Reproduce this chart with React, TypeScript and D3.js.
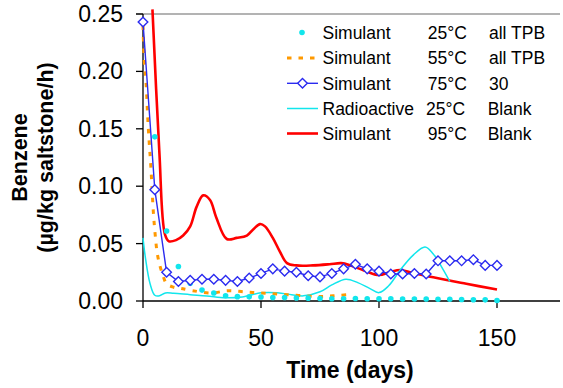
import React from "react";
import * as d3 from "d3";

const xTicks = [0, 50, 100, 150];
const yTicks = [0, 0.05, 0.1, 0.15, 0.2, 0.25];

const dotDays = [5,10,15,20,25,30,35,40,45,50,55,60,65,70,75,80,85,90,95,100,105,110,115,120,125,130,135,140,145,150];
const dotVals = [0.143,0.061,0.030,0.0155,0.0095,0.007,0.0046,0.0038,0.0036,0.0035,0.003,0.003,0.0026,0.0025,0.0022,0.002,0.002,0.0022,0.002,0.002,0.0019,0.0018,0.0018,0.0017,0.0015,0.0015,0.0013,0.0011,0.001,0.0005];

const orangeDays = [0,0.5,1.3,2,2.6,3.3,4.4,5.2,6,7,8.5,10,13,16,21,29,36,43,50,57,65,72,77,82,87];
const orangeVals = [0.24,0.21,0.19,0.16,0.139,0.118,0.077,0.057,0.042,0.032,0.022,0.015,0.012,0.011,0.009,0.007,0.009,0.008,0.007,0.006,0.005,0.004,0.004,0.0047,0.0055];

const blueDays = [0,5,10,15,20,25,30,35,40,45,50,55,60,65,70,75,80,85,90,95,100,105,110,115,120,125,130,135,140,145,150];
const blueVals = [0.243,0.097,0.025,0.017,0.018,0.019,0.019,0.018,0.017,0.020,0.024,0.028,0.026,0.025,0.022,0.021,0.024,0.028,0.032,0.028,0.026,0.0235,0.0235,0.024,0.0235,0.035,0.035,0.035,0.036,0.031,0.031];

const cyanDays = [0,1,3,5,7,9.5,13,20,27,35,42,50,57,63,68,75,80,86,91,96,100,104,109,114.5,119.5,123,127,130];
const cyanVals = [0.055,0.038,0.015,0.005,0.0045,0.007,0.0067,0.0055,0.0044,0.0028,0.0035,0.0072,0.0072,0.0055,0.0045,0.008,0.014,0.019,0.016,0.011,0.0073,0.013,0.027,0.040,0.047,0.041,0.028,0.017];

const redDays = [4.0,6.9,9.3,11,14,17,20,22.7,25.5,28.4,31,35.5,39.7,44,47,49.6,51.7,55,58,61,65,72,79,84,88,95,100,105,109,114,123,137,150];
const redVals = [0.254,0.131,0.058,0.052,0.053,0.057,0.065,0.082,0.092,0.088,0.073,0.054,0.055,0.057,0.063,0.067,0.065,0.055,0.043,0.033,0.031,0.031,0.032,0.033,0.031,0.0255,0.0226,0.0255,0.027,0.0247,0.0206,0.015,0.010];

const legendNames = ["Simulant", "Simulant", "Simulant", "Radioactive", "Simulant"];
const legendTemps = ["25°C", "55°C", "75°C", "25°C", "95°C"];
const legendTypes = ["all TPB", "all TPB", "30", "Blank", "Blank"];

const FONT = "'Liberation Sans', Arial, sans-serif";
const CYAN = "#12E6EC";
const ORANGE = "#FF9900";
const BLUE = "#2B2BF0";
const RED = "#FF0000";

export default function App() {
  const x = d3.scaleLinear().domain([0, 150]).range([143, 497]);
  const y = d3.scaleLinear().domain([0, 0.25]).range([301, 14]);

  const smooth = d3
    .line<[number, number]>()
    .x((d) => x(d[0]))
    .y((d) => y(d[1]))
    .curve(d3.curveCatmullRom.alpha(0.5));
  const straight = d3
    .line<[number, number]>()
    .x((d) => x(d[0]))
    .y((d) => y(d[1]));

  const zip = (a: number[], b: number[]) => a.map((v, i) => [v, b[i]] as [number, number]);

  const orange = zip(orangeDays, orangeVals);
  const blue = zip(blueDays, blueVals);
  const cyan = zip(cyanDays, cyanVals);
  const red = zip(redDays, redVals);
  const dots = zip(dotDays, dotVals);

  const diamond = (cx: number, cy: number, r: number) =>
    `M${cx},${cy - r}L${cx + r},${cy}L${cx},${cy + r}L${cx - r},${cy}Z`;

  const legendY = [32.5, 58, 83.3, 108.5, 133.5];

  return (
    <svg
      width={563}
      height={388}
      style={{ position: "fixed", left: 0, top: 0, background: "#fff" }}
      fontFamily={FONT}
    >
      <rect x={0} y={0} width={563} height={388} fill="#fff" />
      {/* top border */}
      <line x1={136} x2={560} y1={14} y2={14} stroke="#9a9a9a" strokeWidth={1.5} />
      {/* y axis */}
      <line x1={143} x2={143} y1={14} y2={301} stroke="#000" strokeWidth={1.3} />
      {yTicks.map((t) => (
        <g key={t}>
          <line x1={136} x2={143} y1={y(t)} y2={y(t)} stroke="#000" strokeWidth={1.3} />
          <text x={123} y={y(t) + 8} fontSize={23} textAnchor="end" fill="#000">
            {t.toFixed(2)}
          </text>
        </g>
      ))}
      {/* x axis */}
      <line x1={143} x2={560} y1={301} y2={301} stroke="#000" strokeWidth={1.3} />
      {xTicks.map((t) => (
        <g key={t}>
          <line x1={x(t)} x2={x(t)} y1={301} y2={308} stroke="#000" strokeWidth={1.3} />
          <text x={x(t)} y={346} fontSize={23} textAnchor="middle" fill="#000">
            {t}
          </text>
        </g>
      ))}
      <text x={350} y={378} fontSize={23} fontWeight="bold" textAnchor="middle">
        Time (days)
      </text>
      <text
        transform={`translate(27,157.5) rotate(-90)`}
        fontSize={21.5}
        fontWeight="bold"
        textAnchor="middle"
      >
        Benzene
      </text>
      <text
        transform={`translate(53,157.5) rotate(-90)`}
        fontSize={21.5}
        fontWeight="bold"
        textAnchor="middle"
      >
        (µg/kg saltstone/h)
      </text>

      {/* series */}
      <path d={smooth(red) || ""} fill="none" stroke={RED} strokeWidth={2.6} />
      <path d={smooth(cyan) || ""} fill="none" stroke={CYAN} strokeWidth={1.5} />
      <path
        d={smooth(orange) || ""}
        fill="none"
        stroke={ORANGE}
        strokeWidth={3}
        strokeDasharray="4.5,7"
      />
      {dots.map((d, i) => (
        <circle key={i} cx={x(d[0])} cy={y(d[1])} r={2.8} fill={CYAN} />
      ))}
      <path d={straight(blue) || ""} fill="none" stroke={BLUE} strokeWidth={1.4} />
      {blue.map((d, i) => (
        <path
          key={i}
          d={diamond(x(d[0]), y(d[1]), 4.8)}
          fill="#fff"
          stroke={BLUE}
          strokeWidth={1.4}
        />
      ))}

      {/* legend */}
      {legendNames.map((n, i) => {
        const ly = legendY[i];
        return (
          <g key={i}>
            {i === 0 && <circle cx={302} cy={ly} r={2.8} fill={CYAN} />}
            {i === 1 && (
              <line
                x1={287}
                x2={318}
                y1={ly}
                y2={ly}
                stroke={ORANGE}
                strokeWidth={3}
                strokeDasharray="4.5,7"
              />
            )}
            {i === 2 && (
              <g>
                <line x1={287} x2={318} y1={ly} y2={ly} stroke={BLUE} strokeWidth={1.4} />
                <path d={diamond(302.5, ly, 4.8)} fill="#fff" stroke={BLUE} strokeWidth={1.4} />
              </g>
            )}
            {i === 3 && (
              <line x1={287} x2={318} y1={ly} y2={ly} stroke={CYAN} strokeWidth={1.5} />
            )}
            {i === 4 && (
              <line x1={287} x2={318} y1={ly} y2={ly} stroke={RED} strokeWidth={2.6} />
            )}
            <text x={322.5} y={ly + 6.3} fontSize={17.5}>
              {n}
            </text>
            <text x={i === 3 ? 426 : 427.7} y={ly + 6.3} fontSize={17.5}>
              {legendTemps[i]}
            </text>
            <text x={i >= 3 ? 487.7 : 489} y={ly + 6.3} fontSize={17.5}>
              {legendTypes[i]}
            </text>
          </g>
        );
      })}
    </svg>
  );
}
